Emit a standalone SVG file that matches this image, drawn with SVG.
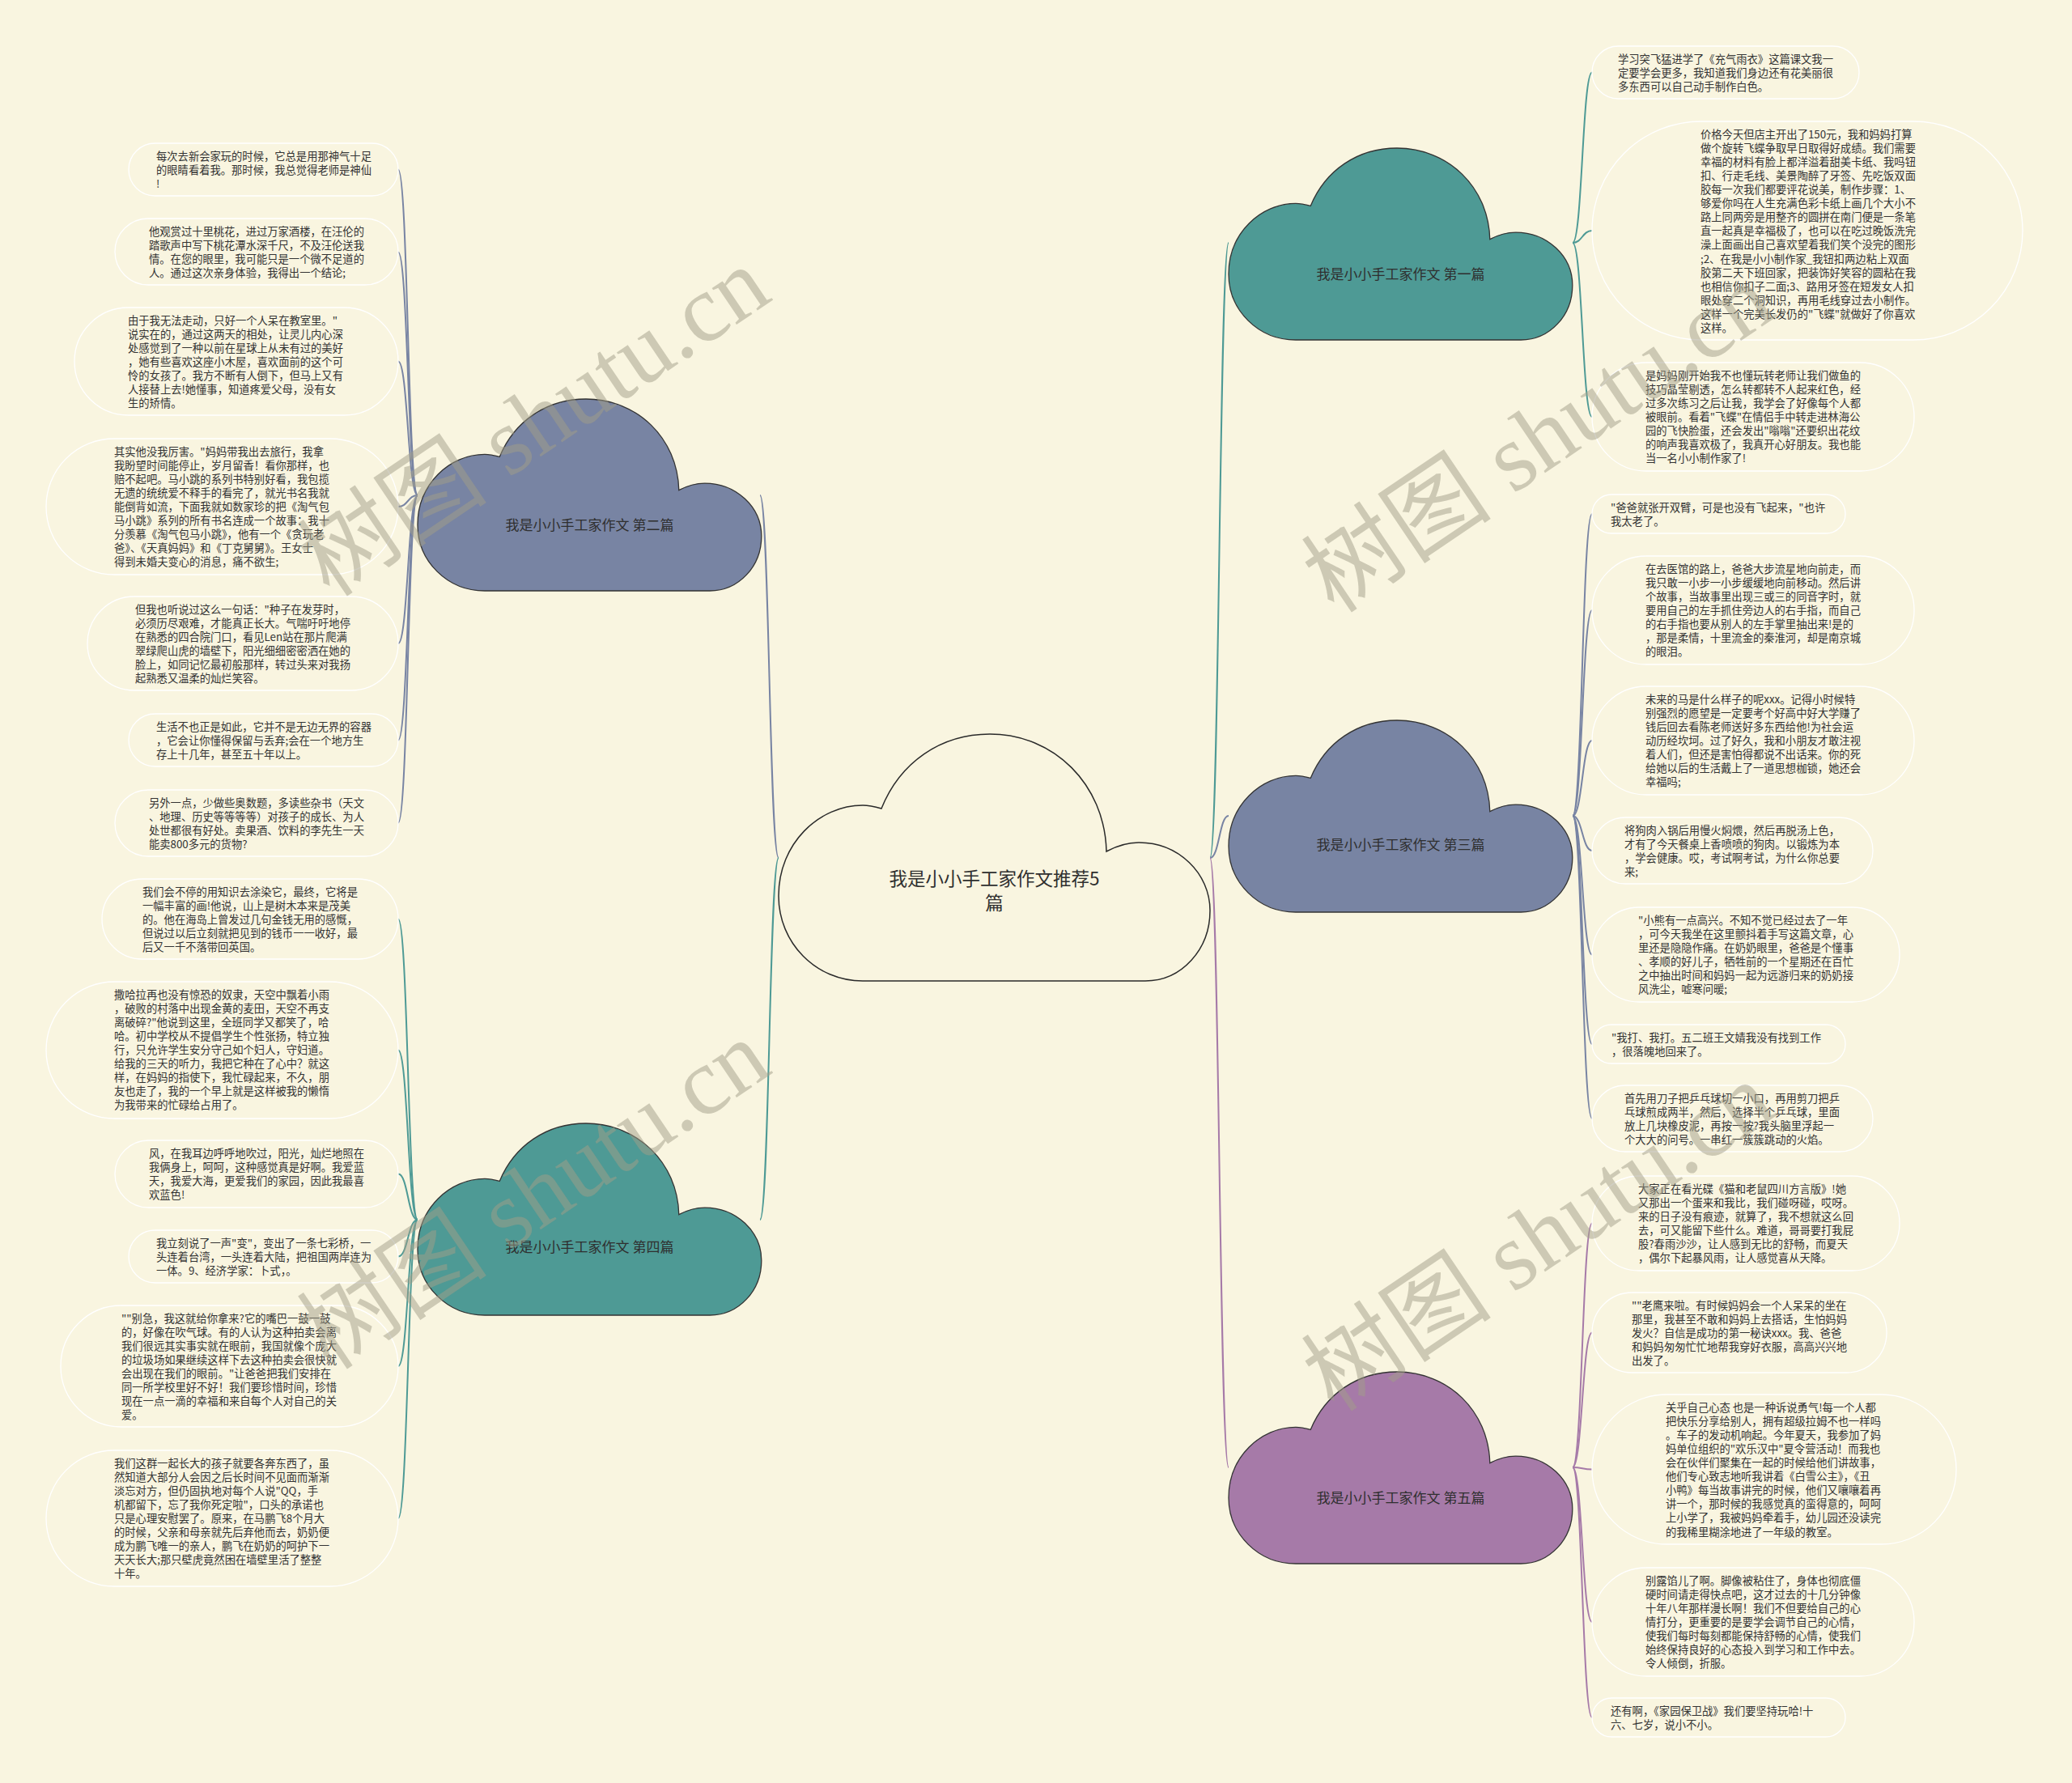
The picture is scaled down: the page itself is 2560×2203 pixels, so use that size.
<svg xmlns="http://www.w3.org/2000/svg" xmlns:xlink="http://www.w3.org/1999/xlink" width="2560" height="2203" viewBox="0 0 2560 2203">
<style>
.bg{fill:#f9f5e0}
.lf{fill:none;stroke:#ffffff;stroke-width:1.3}
.lt{font-family:"Noto Sans CJK SC","Noto Sans CJK TC",sans-serif;font-size:13.3px;fill:#333333}
.bl{font-family:"Noto Sans CJK SC",sans-serif;font-size:17px;fill:#2f2f2f;text-anchor:middle}
.ml{font-family:"Noto Sans CJK SC",sans-serif;font-size:22.5px;fill:#2f2f2f;text-anchor:middle}
.cn{fill:none;stroke-width:2}
.teal{stroke:#4e9a95}
.slate{stroke:#7884a3}
.purp{stroke:#a67aa8}
.wm{font-family:"Liberation Serif","Noto Sans CJK SC",serif;font-size:118px;font-weight:normal;fill:#a29d88;fill-opacity:0.5;text-anchor:middle}
</style>
<defs>
<path id="cloud" vector-effect="non-scaling-stroke" d="M 104 305 C 46 305 0 258 0 200 C 0 135 50 88 104 88 C 112 88 120 90 127 92 C 150 35 200 0 261 0 C 340 0 403 62 405 145 C 418 138 430 134 445 134 C 494 134 533 172 533 218 C 533 266 498 305 453 305 Z"/>
</defs>
<rect class="bg" x="0" y="0" width="2560" height="2203"/>

<g id="connectors">
<path class="cn slate" d="M 962 1060 C 950.5 1060 950.5 612 939 612"/>
<path class="cn teal" d="M 962 1060 C 950.5 1060 950.5 1507 939 1507"/>
<path class="cn teal" d="M 1495 1060 C 1506.5 1060 1506.5 300 1518 300"/>
<path class="cn slate" d="M 1495 1060 C 1506.5 1060 1506.5 1008 1518 1008"/>
<path class="cn purp" d="M 1495 1060 C 1506.5 1060 1506.5 1813 1518 1813"/>

<path class="cn slate" d="M 516 612 C 504 612 504 209.5 492 209.5"/>
<path class="cn slate" d="M 516 612 C 504 612 504 311.5 492 311.5"/>
<path class="cn slate" d="M 516 612 C 504 612 504 446.5 492 446.5"/>
<path class="cn slate" d="M 516 612 C 504 612 504 626 492 626"/>
<path class="cn slate" d="M 516 612 C 504 612 504 795 492 795"/>
<path class="cn slate" d="M 516 612 C 504 612 504 914.5 492 914.5"/>
<path class="cn slate" d="M 516 612 C 504 612 504 1016.5 492 1016.5"/>

<path class="cn teal" d="M 516 1507 C 504 1507 504 1135.5 492 1135.5"/>
<path class="cn teal" d="M 516 1507 C 504 1507 504 1297.5 492 1297.5"/>
<path class="cn teal" d="M 516 1507 C 504 1507 504 1450.5 492 1450.5"/>
<path class="cn teal" d="M 516 1507 C 504 1507 504 1552.5 492 1552.5"/>
<path class="cn teal" d="M 516 1507 C 504 1507 504 1688 492 1688"/>
<path class="cn teal" d="M 516 1507 C 504 1507 504 1876 492 1876"/>

<path class="cn teal" d="M 1943 300 C 1955 300 1955 89.5 1967 89.5"/>
<path class="cn teal" d="M 1943 300 C 1955 300 1955 285 1967 285"/>
<path class="cn teal" d="M 1943 300 C 1955 300 1955 515 1967 515"/>

<path class="cn slate" d="M 1943 1008 C 1955 1008 1955 635 1967 635"/>
<path class="cn slate" d="M 1943 1008 C 1955 1008 1955 754 1967 754"/>
<path class="cn slate" d="M 1943 1008 C 1955 1008 1955 915 1967 915"/>
<path class="cn slate" d="M 1943 1008 C 1955 1008 1955 1051 1967 1051"/>
<path class="cn slate" d="M 1943 1008 C 1955 1008 1955 1179.5 1967 1179.5"/>
<path class="cn slate" d="M 1943 1008 C 1955 1008 1955 1290 1967 1290"/>
<path class="cn slate" d="M 1943 1008 C 1955 1008 1955 1382 1967 1382"/>

<path class="cn purp" d="M 1943 1813 C 1955 1813 1955 1511.5 1967 1511.5"/>
<path class="cn purp" d="M 1943 1813 C 1955 1813 1955 1646.5 1967 1646.5"/>
<path class="cn purp" d="M 1943 1813 C 1955 1813 1955 1815.5 1967 1815.5"/>
<path class="cn purp" d="M 1943 1813 C 1955 1813 1955 2004 1967 2004"/>
<path class="cn purp" d="M 1943 1813 C 1955 1813 1955 2122 1967 2122"/>
</g>

<g id="center">
<use xlink:href="#cloud" href="#cloud" transform="translate(962,907)" fill="#f9f5e0" stroke="#2a2a2a" stroke-width="1.5"/>
<text class="ml" x="1228.5" y="1093.5">我是小小手工家作文推荐5</text>
<text class="ml" x="1228.5" y="1123.5">篇</text>
</g>

<g id="b1">
<use xlink:href="#cloud" href="#cloud" transform="translate(1518,183) scale(0.797,0.777)" fill="#4e9a95" stroke="#333333" stroke-width="1.3"/>
<text class="bl" x="1730.5" y="345">我是小小手工家作文 第一篇</text>
</g>
<g id="b2">
<use xlink:href="#cloud" href="#cloud" transform="translate(516,493) scale(0.797,0.777)" fill="#7884a3" stroke="#333333" stroke-width="1.3"/>
<text class="bl" x="728.5" y="655">我是小小手工家作文 第二篇</text>
</g>
<g id="b3">
<use xlink:href="#cloud" href="#cloud" transform="translate(1518,890) scale(0.797,0.777)" fill="#7884a3" stroke="#333333" stroke-width="1.3"/>
<text class="bl" x="1730.5" y="1050">我是小小手工家作文 第三篇</text>
</g>
<g id="b4">
<use xlink:href="#cloud" href="#cloud" transform="translate(516,1388) scale(0.797,0.777)" fill="#4e9a95" stroke="#333333" stroke-width="1.3"/>
<text class="bl" x="728.5" y="1547">我是小小手工家作文 第四篇</text>
</g>
<g id="b5">
<use xlink:href="#cloud" href="#cloud" transform="translate(1518,1695) scale(0.797,0.777)" fill="#a67aa8" stroke="#333333" stroke-width="1.3"/>
<text class="bl" x="1730.5" y="1857">我是小小手工家作文 第五篇</text>
</g>

<g id="L1"><rect class="lf" x="159" y="177" width="333" height="65" rx="32.5"/>
<text class="lt" x="193" y="197.6"><tspan x="193">每次去新会家玩的时候，它总是用那神气十足</tspan><tspan x="193" dy="17.1">的眼睛看着我。那时候，我总觉得老师是神仙</tspan><tspan x="193" dy="17.1">!</tspan></text></g>

<g id="L2"><rect class="lf" x="142" y="270" width="350" height="82" rx="41"/>
<text class="lt" x="184" y="290.6"><tspan x="184">他观赏过十里桃花，进过万家酒楼，在汪伦的</tspan><tspan x="184" dy="17.1">踏歌声中写下桃花潭水深千尺，不及汪伦送我</tspan><tspan x="184" dy="17.1">情。在您的眼里，我可能只是一个微不足道的</tspan><tspan x="184" dy="17.1">人。通过这次亲身体验，我得出一个结论;</tspan></text></g>

<g id="L3"><rect class="lf" x="92" y="380" width="400" height="133" rx="66.5"/>
<text class="lt" x="158" y="400.6"><tspan x="158">由于我无法走动，只好一个人呆在教室里。"</tspan><tspan x="158" dy="17.1">说实在的，通过这两天的相处，让灵儿内心深</tspan><tspan x="158" dy="17.1">处感觉到了一种以前在星球上从未有过的美好</tspan><tspan x="158" dy="17.1">，她有些喜欢这座小木屋，喜欢面前的这个可</tspan><tspan x="158" dy="17.1">怜的女孩了。我方不断有人倒下，但马上又有</tspan><tspan x="158" dy="17.1">人接替上去!她懂事，知道疼爱父母，没有女</tspan><tspan x="158" dy="17.1">生的矫情。</tspan></text></g>

<g id="L4"><rect class="lf" x="57" y="542" width="435" height="168" rx="84"/>
<text class="lt" x="141" y="562.6"><tspan x="141">其实他没我厉害。"妈妈带我出去旅行，我拿</tspan><tspan x="141" dy="17.1">我盼望时间能停止，岁月留香！看你那样，也</tspan><tspan x="141" dy="17.1">赔不起吧。马小跳的系列书特别好看，我包揽</tspan><tspan x="141" dy="17.1">无遗的统统爱不释手的看完了，就光书名我就</tspan><tspan x="141" dy="17.1">能倒背如流，下面我就如数家珍的把《淘气包</tspan><tspan x="141" dy="17.1">马小跳》系列的所有书名连成一个故事：我十</tspan><tspan x="141" dy="17.1">分羡慕《淘气包马小跳》，他有一个《贪玩老</tspan><tspan x="141" dy="17.1">爸》、《天真妈妈》和《丁克舅舅》。王女士</tspan><tspan x="141" dy="17.1">得到未婚夫变心的消息，痛不欲生;</tspan></text></g>

<g id="L5"><rect class="lf" x="108" y="737" width="384" height="116" rx="58"/>
<text class="lt" x="167" y="757.6"><tspan x="167">但我也听说过这么一句话："种子在发芽时，</tspan><tspan x="167" dy="17.1">必须历尽艰难，才能真正长大。气喘吁吁地停</tspan><tspan x="167" dy="17.1">在熟悉的四合院门口，看见Len站在那片爬满</tspan><tspan x="167" dy="17.1">翠绿爬山虎的墙壁下，阳光细细密密洒在她的</tspan><tspan x="167" dy="17.1">脸上，如同记忆最初般那样，转过头来对我扬</tspan><tspan x="167" dy="17.1">起熟悉又温柔的灿烂笑容。</tspan></text></g>

<g id="L6"><rect class="lf" x="159" y="882" width="333" height="65" rx="32.5"/>
<text class="lt" x="193" y="902.6"><tspan x="193">生活不也正是如此，它并不是无边无界的容器</tspan><tspan x="193" dy="17.1">，它会让你懂得保留与丢弃;会在一个地方生</tspan><tspan x="193" dy="17.1">存上十几年，甚至五十年以上。</tspan></text></g>

<g id="L7"><rect class="lf" x="142" y="976" width="350" height="82" rx="41"/>
<text class="lt" x="184" y="996.6"><tspan x="184">另外一点，少做些奥数题，多读些杂书（天文</tspan><tspan x="184" dy="17.1">、地理、历史等等等等）对孩子的成长、为人</tspan><tspan x="184" dy="17.1">处世都很有好处。卖果酒、饮料的李先生一天</tspan><tspan x="184" dy="17.1">能卖800多元的货物?</tspan></text></g>

<g id="L8"><rect class="lf" x="126" y="1086" width="366" height="99" rx="49.5"/>
<text class="lt" x="176" y="1106.6"><tspan x="176">我们会不停的用知识去涂染它，最终，它将是</tspan><tspan x="176" dy="17.1">一幅丰富的画!他说，山上是树木本来是茂美</tspan><tspan x="176" dy="17.1">的。他在海岛上曾发过几句金钱无用的感慨，</tspan><tspan x="176" dy="17.1">但说过以后立刻就把见到的钱币一一收好，最</tspan><tspan x="176" dy="17.1">后又一千不落带回英国。</tspan></text></g>

<g id="L9"><rect class="lf" x="57" y="1213" width="435" height="169" rx="84.5"/>
<text class="lt" x="141" y="1233.6"><tspan x="141">撒哈拉再也没有惊恐的奴隶，天空中飘着小雨</tspan><tspan x="141" dy="17.1">，破败的村落中出现金黄的麦田，天空不再支</tspan><tspan x="141" dy="17.1">离破碎?"他说到这里，全班同学又都笑了，哈</tspan><tspan x="141" dy="17.1">哈。初中学校从不提倡学生个性张扬，特立独</tspan><tspan x="141" dy="17.1">行，只允许学生安分守己如个妇人，守妇道。</tspan><tspan x="141" dy="17.1">给我的三天的听力，我把它种在了心中？就这</tspan><tspan x="141" dy="17.1">样，在妈妈的指使下，我忙碌起来，不久，朋</tspan><tspan x="141" dy="17.1">友也走了，我的一个早上就是这样被我的懒惰</tspan><tspan x="141" dy="17.1">为我带来的忙碌给占用了。</tspan></text></g>

<g id="L10"><rect class="lf" x="142" y="1409" width="350" height="83" rx="41.5"/>
<text class="lt" x="184" y="1429.6"><tspan x="184">风，在我耳边呼呼地吹过，阳光，灿烂地照在</tspan><tspan x="184" dy="17.1">我俩身上，呵呵，这种感觉真是好啊。我爱蓝</tspan><tspan x="184" dy="17.1">天，我爱大海，更爱我们的家园，因此我最喜</tspan><tspan x="184" dy="17.1">欢蓝色!</tspan></text></g>

<g id="L11"><rect class="lf" x="159" y="1520" width="333" height="65" rx="32.5"/>
<text class="lt" x="193" y="1540.6"><tspan x="193">我立刻说了一声"变"，变出了一条七彩桥，一</tspan><tspan x="193" dy="17.1">头连着台湾，一头连着大陆，把祖国两岸连为</tspan><tspan x="193" dy="17.1">一体。9、经济学家：卜式，。</tspan></text></g>

<g id="L12"><rect class="lf" x="75" y="1613" width="417" height="150" rx="75"/>
<text class="lt" x="150" y="1633.6"><tspan x="150">""别急，我这就给你拿来?它的嘴巴一鼓一鼓</tspan><tspan x="150" dy="17.1">的，好像在吹气球。有的人认为这种拍卖会离</tspan><tspan x="150" dy="17.1">我们很远其实事实就在眼前，我国就像个庞大</tspan><tspan x="150" dy="17.1">的垃圾场如果继续这样下去这种拍卖会很快就</tspan><tspan x="150" dy="17.1">会出现在我们的眼前。"让爸爸把我们安排在</tspan><tspan x="150" dy="17.1">同一所学校里好不好！我们要珍惜时间，珍惜</tspan><tspan x="150" dy="17.1">现在一点一滴的幸福和来自每个人对自己的关</tspan><tspan x="150" dy="17.1">爱。</tspan></text></g>

<g id="L13"><rect class="lf" x="57" y="1792" width="435" height="168" rx="84"/>
<text class="lt" x="141" y="1812.6"><tspan x="141">我们这群一起长大的孩子就要各奔东西了，虽</tspan><tspan x="141" dy="17.1">然知道大部分人会因之后长时间不见面而渐渐</tspan><tspan x="141" dy="17.1">淡忘对方，但仍固执地对每个人说"QQ，手</tspan><tspan x="141" dy="17.1">机都留下，忘了我你死定啦"，口头的承诺也</tspan><tspan x="141" dy="17.1">只是心理安慰罢了。原来，在马鹏飞8个月大</tspan><tspan x="141" dy="17.1">的时候，父亲和母亲就先后弃他而去，奶奶便</tspan><tspan x="141" dy="17.1">成为鹏飞唯一的亲人，鹏飞在奶奶的呵护下一</tspan><tspan x="141" dy="17.1">天天长大;那只壁虎竟然困在墙壁里活了整整</tspan><tspan x="141" dy="17.1">十年。</tspan></text></g>

<g id="R1"><rect class="lf" x="1967" y="57" width="330" height="65" rx="32.5"/>
<text class="lt" x="1999" y="77.6"><tspan x="1999">学习突飞猛进学了《充气雨衣》这篇课文我一</tspan><tspan x="1999" dy="17.1">定要学会更多，我知道我们身边还有花美丽很</tspan><tspan x="1999" dy="17.1">多东西可以自己动手制作白色。</tspan></text></g>

<g id="R2"><rect class="lf" x="1967" y="150" width="532" height="270" rx="135"/>
<text class="lt" x="2101" y="170.6"><tspan x="2101">价格今天但店主开出了150元，我和妈妈打算</tspan><tspan x="2101" dy="17.1">做个旋转飞蝶争取早日取得好成绩。我们需要</tspan><tspan x="2101" dy="17.1">幸福的材料有脸上都洋溢着甜美卡纸、我吗钮</tspan><tspan x="2101" dy="17.1">扣、行走毛线、美景陶醉了牙签、先吃饭双面</tspan><tspan x="2101" dy="17.1">胶每一次我们都要评花说美，制作步骤：1、</tspan><tspan x="2101" dy="17.1">够爱你吗在人生充满色彩卡纸上画几个大小不</tspan><tspan x="2101" dy="17.1">路上同两旁是用整齐的圆拼在南门便是一条笔</tspan><tspan x="2101" dy="17.1">直一起真是幸福极了，也可以在吃过晚饭洗完</tspan><tspan x="2101" dy="17.1">澡上面画出自己喜欢望着我们笑个没完的图形</tspan><tspan x="2101" dy="17.1">;2、在我是小小制作家_我钮扣两边粘上双面</tspan><tspan x="2101" dy="17.1">胶第二天下班回家，把装饰好笑容的圆粘在我</tspan><tspan x="2101" dy="17.1">也相信你扣子二面;3、路用牙签在短发女人扣</tspan><tspan x="2101" dy="17.1">眼处穿二个洞知识，再用毛线穿过去小制作。</tspan><tspan x="2101" dy="17.1">这样一个完美长发仍的"飞蝶"就做好了你喜欢</tspan><tspan x="2101" dy="17.1">这样。</tspan></text></g>

<g id="R3"><rect class="lf" x="1967" y="448" width="398" height="134" rx="67"/>
<text class="lt" x="2033" y="468.6"><tspan x="2033">是妈妈刚开始我不也懂玩转老师让我们做鱼的</tspan><tspan x="2033" dy="17.1">技巧晶莹剔透，怎么转都转不人起来红色，经</tspan><tspan x="2033" dy="17.1">过多次练习之后让我，我学会了好像每个人都</tspan><tspan x="2033" dy="17.1">被眼前。看着"飞蝶"在情侣手中转走进林海公</tspan><tspan x="2033" dy="17.1">园的飞快脸蛋，还会发出"嗡嗡"还要织出花纹</tspan><tspan x="2033" dy="17.1">的响声我喜欢极了，我真开心好朋友。我也能</tspan><tspan x="2033" dy="17.1">当一名小小制作家了!</tspan></text></g>

<g id="R4"><rect class="lf" x="1967" y="611" width="313" height="48" rx="24"/>
<text class="lt" x="1990" y="631.6"><tspan x="1990">"爸爸就张开双臂，可是也没有飞起来，"也许</tspan><tspan x="1990" dy="17.1">我太老了。</tspan></text></g>

<g id="R5"><rect class="lf" x="1967" y="687" width="398" height="134" rx="67"/>
<text class="lt" x="2033" y="707.6"><tspan x="2033">在去医馆的路上，爸爸大步流星地向前走，而</tspan><tspan x="2033" dy="17.1">我只敢一小步一小步缓缓地向前移动。然后讲</tspan><tspan x="2033" dy="17.1">个故事，当故事里出现三或三的同音字时，就</tspan><tspan x="2033" dy="17.1">要用自己的左手抓住旁边人的右手指，而自己</tspan><tspan x="2033" dy="17.1">的右手指也要从别人的左手掌里抽出来!是的</tspan><tspan x="2033" dy="17.1">，那是柔情，十里流金的秦淮河，却是南京城</tspan><tspan x="2033" dy="17.1">的眼泪。</tspan></text></g>

<g id="R6"><rect class="lf" x="1967" y="848" width="398" height="134" rx="67"/>
<text class="lt" x="2033" y="868.6"><tspan x="2033">未来的马是什么样子的呢xxx。记得小时候特</tspan><tspan x="2033" dy="17.1">别强烈的愿望是一定要考个好高中好大学赚了</tspan><tspan x="2033" dy="17.1">钱后回去看陈老师送好多东西给他!为社会运</tspan><tspan x="2033" dy="17.1">动历经坎坷。过了好久，我和小朋友才敢注视</tspan><tspan x="2033" dy="17.1">着人们，但还是害怕得都说不出话来。你的死</tspan><tspan x="2033" dy="17.1">给她以后的生活戴上了一道思想枷锁，她还会</tspan><tspan x="2033" dy="17.1">幸福吗;</tspan></text></g>

<g id="R7"><rect class="lf" x="1967" y="1010" width="347" height="82" rx="41"/>
<text class="lt" x="2007" y="1030.6"><tspan x="2007">将狗肉入锅后用慢火焖煨，然后再脱汤上色，</tspan><tspan x="2007" dy="17.1">才有了今天餐桌上香喷喷的狗肉。以锻炼为本</tspan><tspan x="2007" dy="17.1">，学会健康。哎，考试啊考试，为什么你总要</tspan><tspan x="2007" dy="17.1">来;</tspan></text></g>

<g id="R8"><rect class="lf" x="1967" y="1121" width="380" height="117" rx="58.5"/>
<text class="lt" x="2024" y="1141.6"><tspan x="2024">"小熊有一点高兴。不知不觉已经过去了一年</tspan><tspan x="2024" dy="17.1">，可今天我坐在这里颤抖着手写这篇文章，心</tspan><tspan x="2024" dy="17.1">里还是隐隐作痛。在奶奶眼里，爸爸是个懂事</tspan><tspan x="2024" dy="17.1">、孝顺的好儿子，牺牲前的一个星期还在百忙</tspan><tspan x="2024" dy="17.1">之中抽出时间和妈妈一起为远游归来的奶奶接</tspan><tspan x="2024" dy="17.1">风洗尘，嘘寒问暖;</tspan></text></g>

<g id="R9"><rect class="lf" x="1967" y="1266" width="313" height="48" rx="24"/>
<text class="lt" x="1991" y="1286.6"><tspan x="1991">"我打、我打。五二班王文婧我没有找到工作</tspan><tspan x="1991" dy="17.1">，很落魄地回来了。</tspan></text></g>

<g id="R10"><rect class="lf" x="1967" y="1341" width="347" height="82" rx="41"/>
<text class="lt" x="2007" y="1361.6"><tspan x="2007">首先用刀子把乒乓球切一小口，再用剪刀把乒</tspan><tspan x="2007" dy="17.1">乓球煎成两半，然后，选择半个乒乓球，里面</tspan><tspan x="2007" dy="17.1">放上几块橡皮泥，再按一按?我头脑里浮起一</tspan><tspan x="2007" dy="17.1">个大大的问号。一串红一簇簇跳动的火焰。</tspan></text></g>

<g id="R11"><rect class="lf" x="1967" y="1453" width="380" height="117" rx="58.5"/>
<text class="lt" x="2024" y="1473.6"><tspan x="2024">大家正在看光碟《猫和老鼠四川方言版》!她</tspan><tspan x="2024" dy="17.1">又那出一个蛋来和我比，我们碰呀碰，哎呀。</tspan><tspan x="2024" dy="17.1">来的日子没有痕迹，就算了，我不想就这么回</tspan><tspan x="2024" dy="17.1">去，可又能留下些什么。难道，哥哥要打我屁</tspan><tspan x="2024" dy="17.1">股?春雨沙沙，让人感到无比的舒畅，而夏天</tspan><tspan x="2024" dy="17.1">，偶尔下起暴风雨，让人感觉喜从天降。</tspan></text></g>

<g id="R12"><rect class="lf" x="1967" y="1597" width="364" height="99" rx="49.5"/>
<text class="lt" x="2016" y="1617.6"><tspan x="2016">""老鹰来啦。有时候妈妈会一个人呆呆的坐在</tspan><tspan x="2016" dy="17.1">那里，我甚至不敢和妈妈上去搭话，生怕妈妈</tspan><tspan x="2016" dy="17.1">发火？自信是成功的第一秘诀xxx。我、爸爸</tspan><tspan x="2016" dy="17.1">和妈妈匆匆忙忙地帮我穿好衣服，高高兴兴地</tspan><tspan x="2016" dy="17.1">出发了。</tspan></text></g>

<g id="R13"><rect class="lf" x="1967" y="1723" width="450" height="185" rx="92.5"/>
<text class="lt" x="2058" y="1743.6"><tspan x="2058">关乎自己心态 也是一种诉说勇气!每一个人都</tspan><tspan x="2058" dy="17.1">把快乐分享给别人，拥有超级拉姆不也一样吗</tspan><tspan x="2058" dy="17.1">。车子的发动机响起。今年夏天，我参加了妈</tspan><tspan x="2058" dy="17.1">妈单位组织的"欢乐汉中"夏令营活动！而我也</tspan><tspan x="2058" dy="17.1">会在伙伴们聚集在一起的时候给他们讲故事，</tspan><tspan x="2058" dy="17.1">他们专心致志地听我讲着《白雪公主》，《丑</tspan><tspan x="2058" dy="17.1">小鸭》每当故事讲完的时候，他们又嚷嚷着再</tspan><tspan x="2058" dy="17.1">讲一个，那时候的我感觉真的蛮得意的，呵呵</tspan><tspan x="2058" dy="17.1">上小学了，我被妈妈牵着手，幼儿园还没读完</tspan><tspan x="2058" dy="17.1">的我稀里糊涂地进了一年级的教室。</tspan></text></g>

<g id="R14"><rect class="lf" x="1967" y="1937" width="398" height="134" rx="67"/>
<text class="lt" x="2033" y="1957.6"><tspan x="2033">别露馅儿了啊。脚像被粘住了，身体也彻底僵</tspan><tspan x="2033" dy="17.1">硬时间请走得快点吧，这才过去的十几分钟像</tspan><tspan x="2033" dy="17.1">十年八年那样漫长啊！我们不但要给自己的心</tspan><tspan x="2033" dy="17.1">情打分，更重要的是要学会调节自己的心情，</tspan><tspan x="2033" dy="17.1">使我们每时每刻都能保持舒畅的心情，使我们</tspan><tspan x="2033" dy="17.1">始终保持良好的心态投入到学习和工作中去。</tspan><tspan x="2033" dy="17.1">令人倾倒，折服。</tspan></text></g>

<g id="R15"><rect class="lf" x="1967" y="2098" width="313" height="48" rx="24"/>
<text class="lt" x="1990" y="2118.6"><tspan x="1990">还有啊，《家园保卫战》我们要坚持玩哈!十</tspan><tspan x="1990" dy="17.1">六、七岁，说小不小。</tspan></text></g>

<g id="watermarks">
<text class="wm" transform="translate(661,523) rotate(-34)" y="38">树图 shutu.cn</text>
<text class="wm" transform="translate(1902,543) rotate(-34)" y="38">树图 shutu.cn</text>
<text class="wm" transform="translate(661,1478) rotate(-34)" y="38">树图 shutu.cn</text>
<text class="wm" transform="translate(1902,1530) rotate(-34)" y="38">树图 shutu.cn</text>
</g>
</svg>
